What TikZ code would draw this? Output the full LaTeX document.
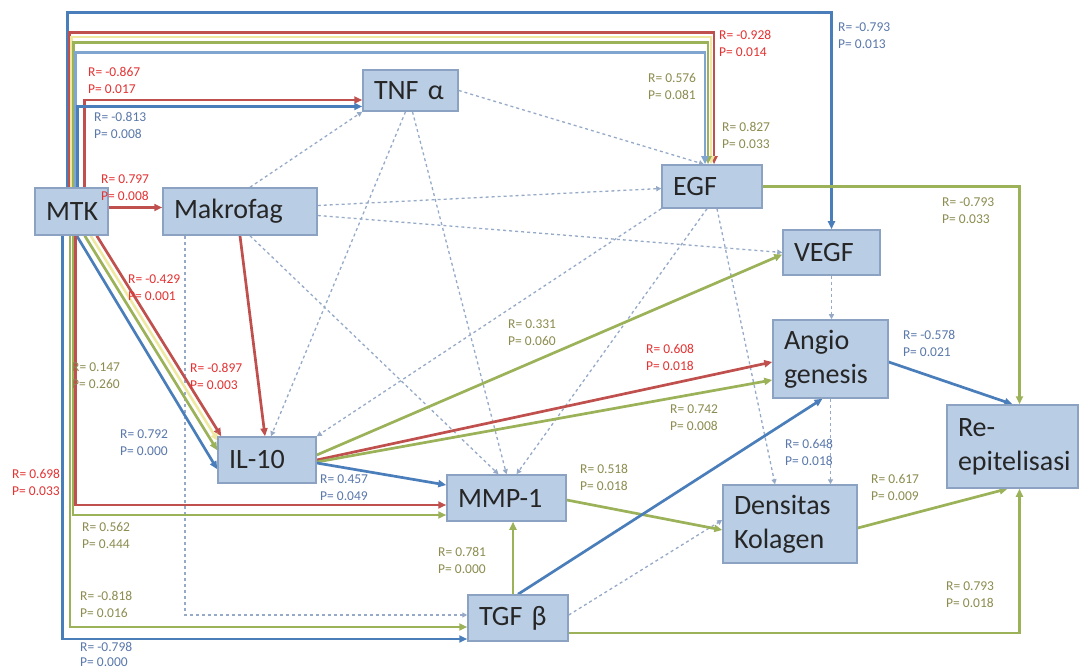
\documentclass[tikz,border=0pt]{standalone}
\usepackage{fontspec}
\setmainfont{Carlito}
\usetikzlibrary{arrows.meta,backgrounds}
\definecolor{boxfill}{RGB}{185,205,229}
\definecolor{boxline}{RGB}{140,162,194}
\definecolor{bluline}{RGB}{74,126,187}
\definecolor{redline}{RGB}{192,80,77}
\definecolor{grnline}{RGB}{155,178,89}
\definecolor{ylwline}{RGB}{238,232,160}
\definecolor{dashline}{RGB}{150,170,200}
\definecolor{redtxt}{RGB}{228,50,50}
\definecolor{grntxt}{RGB}{140,140,80}
\definecolor{blutxt}{RGB}{90,120,170}

\begin{document}
\begin{tikzpicture}[x=1pt,y=-1pt,
  var/.style={draw=boxline,fill=boxfill,line width=1.5pt,font=\fontsize{28}{34}\selectfont,
    text=black!85,align=left,inner xsep=11pt,inner ysep=0pt,minimum height=#1},
  tip/.style={-{Triangle[length=8pt,width=7pt]}},
  bl/.style={bluline,line width=2.7pt,tip},
  rd/.style={redline,line width=2.7pt,tip},
  gr/.style={grnline,line width=2.7pt,tip},
  yl/.style={ylwline,line width=2.5pt,tip},
  dsh/.style={dashline,line width=1.3pt,dash pattern=on 3pt off 3pt,-{Triangle[length=5pt,width=5pt]}},
  lbl/.style={anchor=west,align=left,inner sep=0pt,font=\fontsize{13.5}{17}\selectfont},
  lr/.style={lbl,text=redtxt},
  lg/.style={lbl,text=grntxt},
  lb/.style={lbl,text=blutxt}]
\useasboundingbox (0,0) rectangle (1080,671);

% variables
\node[var=47pt,text width=51pt]  (mtk)      at (71.5,211.5) {MTK};
\node[var=47pt,text width=132pt] (makrofag) at (240,211.5)  {Makrofag};
\node[var=41pt,text width=73pt]  (tnf)      at (410.5,90.5) {TNF α};
\node[var=43pt,text width=78pt]  (egf)      at (712,186.5)  {EGF};
\node[var=45pt,text width=75pt]  (vegf)     at (831.5,252.5) {VEGF};
\node[var=78pt,text width=93pt]  (angio)    at (830.5,359)  {Angio\\genesis};
\node[var=83pt,text width=109pt] (reepi)    at (1012.5,446.5) {Re-\\epitelisasi};
\node[var=46pt,text width=76pt]  (il10)     at (267,460)    {IL-10};
\node[var=46pt,text width=97pt]  (mmp)      at (506.5,498)  {MMP-1};
\node[var=78pt,text width=112pt] (kolagen)  at (790,524)    {Densitas\\Kolagen};
\node[var=46pt,text width=78pt]  (tgf)      at (518,618)    {TGF β};

\begin{pgfonlayer}{background}
\fill[white] (0,0) rectangle (1080,671);
% non significant paths
\draw[dsh] (tnf.east) -- ([xshift=-8pt]egf.north);
\draw[dsh] ([xshift=-5pt]tnf.south) -- ([xshift=4pt]il10.north);
\draw[dsh] ([xshift=2pt]tnf.south) -- (mmp.north);
\draw[dsh] ([xshift=10pt]makrofag.north) -- (tnf.south west);
\draw[dsh] ([yshift=6pt]makrofag.east) -- ([yshift=-2pt]egf.west);
\draw[dsh] ([yshift=-4pt]makrofag.east) -- (vegf.west);
\draw[dsh] ([xshift=10pt]makrofag.south) -- ([xshift=-8pt]mmp.north);
\draw[dsh] ([xshift=-55pt]makrofag.south) |- ([yshift=3pt]tgf.west);
\draw[dsh] (egf.south west) -- (il10.north east);
\draw[dsh] ([xshift=-5pt]egf.south) -- ([xshift=10pt]mmp.north);
\draw[dsh] ([xshift=5pt]egf.south) -- ([xshift=-15pt]kolagen.north);
\draw[dsh] ([yshift=3pt]tgf.east) -- ([yshift=4pt]kolagen.west);
\draw[dsh] (angio.south) -- (angio.south |- kolagen.north);
\draw[dsh] (vegf.south) -- (vegf.south |- angio.north);
% MTK over the top
\draw[bl] ([xshift=-4pt]mtk.north) -- ++(0,-175) -| (vegf.north);
\draw[rd] ([xshift=-2pt]mtk.north) -- ++(0,-155) -| ([xshift=2pt]egf.north);
\draw[yl] ([xshift=0pt]mtk.north) -- ++(0,-150) -| ([xshift=-1pt]egf.north);
\draw[gr] ([xshift=2pt]mtk.north) -- ++(0,-145) -| ([xshift=-4pt]egf.north);
\draw[bl,draw=bluline!70] ([xshift=4pt]mtk.north) -- ++(0,-135) -| ([xshift=-7pt]egf.north);
\draw[rd] ([xshift=13pt]mtk.north) |- ([yshift=-9.5pt]tnf.west);
\draw[bl] ([xshift=6pt]mtk.north) |- ([yshift=-16pt]tnf.west);
\draw[rd] ([yshift=4pt]mtk.east) -- ([yshift=4pt]makrofag.west);
% MTK to IL-10
\draw[rd] ([xshift=-12pt]mtk.south east) -- ([xshift=4pt]il10.north west);
\draw[yl] ([xshift=-18pt]mtk.south east) -- ([xshift=1pt,yshift=-5pt]il10.north west);
\draw[gr] ([xshift=-24pt]mtk.south east) -- ([yshift=-14pt]il10.north west);
\draw[bl] ([xshift=-32pt]mtk.south east) -- ([yshift=-33pt]il10.north west);
\draw[rd] (makrofag.south) -- ([xshift=-2pt]il10.north);
% MTK down the left side
\draw[bl] ([xshift=-9pt]mtk.south) |- ([yshift=-21pt]tgf.west);
\draw[gr] ([xshift=-1.5pt]mtk.south) |- ([yshift=-9pt]tgf.west);
\draw[gr] ([xshift=1.5pt]mtk.south) |- ([yshift=-17pt]mmp.west);
\draw[rd] ([xshift=4pt]mtk.south) |- ([yshift=-7pt]mmp.west);
% from IL-10
\draw[gr] ([yshift=5pt]il10.east) -- ([yshift=-2pt]vegf.west);
\draw[rd] (il10.east) -- ([yshift=-3pt]angio.west);
\draw[gr] ([yshift=-2pt]il10.east) -- ([yshift=-21pt]angio.west);
\draw[bl] ([yshift=-3pt]il10.east) -- ([yshift=13pt]mmp.west);
% to the outcome
\draw[gr] ([yshift=-2pt]mmp.east) -- ([yshift=-6pt]kolagen.west);
\draw[gr] ([xshift=-5pt]tgf.north) -- ([xshift=6.5pt]mmp.south);
\draw[bl] (tgf.north) -- ([xshift=-8pt]angio.south);
\draw[bl] ([yshift=-3pt]angio.east) -- (reepi.north);
\draw[gr] ([yshift=-4pt]kolagen.east) -- ([xshift=-5pt]reepi.south);
\draw[gr] (egf.east) -| ([xshift=7pt]reepi.north);
\draw[gr] ([yshift=-15pt]tgf.east) -| ([xshift=7pt]reepi.south);
\end{pgfonlayer}

% coefficients
\node[lr] (r1)  at (719,43)  {R= -0.928\\P= 0.014};
\node[lb] (r2)  at (838,36)  {R= -0.793\\P= 0.013};
\node[lr] (r3)  at (88,80)   {R= -0.867\\P= 0.017};
\node[lb] (r4)  at (94,125)  {R= -0.813\\P= 0.008};
\node[lg] (r5)  at (648,86)  {R= 0.576\\P= 0.081};
\node[lg] (r6)  at (722,135) {R= 0.827\\P= 0.033};
\node[lr] (r7)  at (101,188) {R= 0.797\\P= 0.008};
\node[lg] (r8)  at (942,211) {R= -0.793\\P= 0.033};
\node[lr] (r9)  at (128,288) {R= -0.429\\P= 0.001};
\node[lg] (r10) at (72,376)  {R= 0.147\\P= 0.260};
\node[lr] (r11) at (190,376) {R= -0.897\\P= 0.003};
\node[lg] (r12) at (508,333) {R= 0.331\\P= 0.060};
\node[lr] (r13) at (646,357) {R= 0.608\\P= 0.018};
\node[lb] (r14) at (903,343) {R= -0.578\\P= 0.021};
\node[lg] (r15) at (670,418) {R= 0.742\\P= 0.008};
\node[lb] (r16) at (120,443) {R= 0.792\\P= 0.000};
\node[lb] (r17) at (785,452) {R= 0.648\\P= 0.018};
\node[lb] (r18) at (320,488) {R= 0.457\\P= 0.049};
\node[lg] (r19) at (580,477) {R= 0.518\\P= 0.018};
\node[lr] (r20) at (12,482)  {R= 0.698\\P= 0.033};
\node[lg] (r21) at (871,487) {R= 0.617\\P= 0.009};
\node[lg] (r22) at (82,535)  {R= 0.562\\P= 0.444};
\node[lg] (r23) at (438,560) {R= 0.781\\P= 0.000};
\node[lg] (r24) at (80,604)  {R= -0.818\\P= 0.016};
\node[lg] (r25) at (946,595) {R= 0.793\\P= 0.018};
\node[lb,font=\fontsize{13.5}{15}\selectfont] (r26) at (80,654) {R= -0.798\\P= 0.000};
\end{tikzpicture}
\end{document}
